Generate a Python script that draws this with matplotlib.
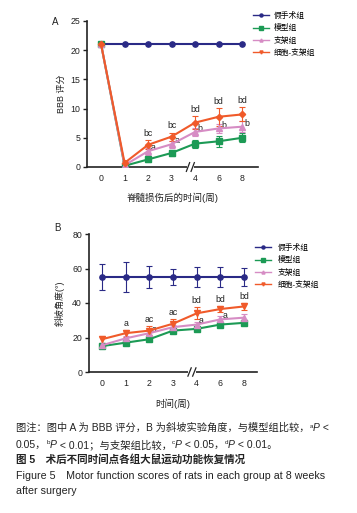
import numpy as np
import matplotlib
matplotlib.use('Agg')
import matplotlib.pyplot as plt
from matplotlib.lines import Line2D

plt.rcParams['font.family'] = ['Liberation Sans', 'Noto Sans CJK SC', 'DejaVu Sans']

weeks = ['0', '1', '2', '3', '4', '6', '8']
groups = ['假手术组', '模型组', '支架组', '细胞-支架组']
colors = ['#2A2A86', '#1C9A55', '#D68CC4', '#F05A2A']

# A: BBB score
bbb_sham = [21, 21, 21, 21, 21, 21, 21]
bbb_model = [21, 0.2, 1.3, 2.4, 4.0, 4.4, 5.0]
bbb_model_err = [0, 0.2, 0.4, 0.5, 0.7, 0.9, 0.8]
bbb_scaf = [21, 0.3, 2.7, 3.9, 6.0, 6.6, 6.9]
bbb_scaf_err = [0, 0.2, 0.6, 0.6, 0.7, 0.8, 0.9]
bbb_cell = [21, 0.7, 3.8, 5.2, 7.6, 8.6, 9.0]
bbb_cell_err = [0, 0.3, 0.8, 0.7, 1.1, 1.5, 1.2]
bbb_cell_sig = ['', '', 'bc', 'bc', 'bd', 'bd', 'bd']
bbb_scaf_sig = ['', '', 'a', 'a', 'b', 'b', 'b']

# B: incline angle
ang_sham = [55, 55, 55, 55, 55, 55, 55]
ang_sham_err = [7.5, 8.5, 6.5, 4.5, 5.8, 5.8, 5.3]
ang_model = [15, 17, 19, 24, 25, 27.5, 28.5]
ang_model_err = [1.0, 1.0, 1.0, 1.2, 1.2, 1.5, 1.5]
ang_scaf = [15.5, 19.5, 22.5, 26, 27.5, 30.5, 31.5]
ang_scaf_err = [1.2, 1.5, 1.5, 1.5, 1.5, 2.0, 2.0]
ang_cell = [19, 22.5, 24, 28, 34, 36.5, 38]
ang_cell_err = [2.0, 2.0, 2.5, 2.5, 3.5, 2.0, 2.0]
ang_cell_sig = ['', 'a', 'ac', 'ac', 'bd', 'bd', 'bd']
ang_scaf_sig = ['', '', 'a', '', 'a', 'a', '']

x = np.arange(len(weeks))

fig = plt.figure(figsize=(3.57, 5.13), dpi=100)
W, H = 357, 513
TXT = '#222222'


def px(l, t, r, b):
    return [l / W, 1 - b / H, (r - l) / W, (b - t) / H]


def style_ax(ax, ylim, yticks, xl):
    ax.set_ylim(*ylim)
    ax.set_yticks(yticks)
    ax.set_xlim(*xl)
    ax.set_xticks(x)
    ax.set_xticklabels(weeks)
    for s in ['top', 'right']:
        ax.spines[s].set_visible(False)
    for s in ['left', 'bottom']:
        ax.spines[s].set_linewidth(1.2)
        ax.spines[s].set_color(TXT)
    ax.tick_params(labelsize=6.3, width=1.0, length=3, pad=2, colors=TXT)
    ax.tick_params(axis='x', length=0, pad=5)
    # axis break
    bx = 3.8
    ax.plot([bx - 0.16, bx + 0.16], [0, 0], color='white', lw=3, transform=ax.get_xaxis_transform(),
            clip_on=False, zorder=5, solid_capstyle='butt')
    for dx in (-0.1, 0.1):
        ax.plot([bx + dx - 0.07, bx + dx + 0.07], [-0.03, 0.03], color=TXT, lw=0.9,
                transform=ax.get_xaxis_transform(), clip_on=False, zorder=6)


def series(ax, y, err, c, m, ms):
    if err is None:
        ax.plot(x, y, color=c, marker=m, ms=ms, lw=1.5, zorder=3)
    else:
        ax.errorbar(x, y, yerr=err, color=c, marker=m, ms=ms, lw=1.5, elinewidth=0.8,
                    capsize=2.5, capthick=0.8, zorder=3)


# ---- panel A
axA = fig.add_axes(px(87, 21, 258, 167))
series(axA, bbb_sham, None, colors[0], 'o', 3.8)
series(axA, bbb_model, bbb_model_err, colors[1], 's', 3.8)
series(axA, bbb_scaf, bbb_scaf_err, colors[2], '^', 3.8)
series(axA, bbb_cell, bbb_cell_err, colors[3], 'D', 3.2)
style_ax(axA, (0, 25), [0, 5, 10, 15, 20, 25], (-0.6, 6.68))
for i in x:
    if bbb_cell_sig[i]:
        axA.text(i, bbb_cell[i] + bbb_cell_err[i] + 0.4, bbb_cell_sig[i], ha='center', va='bottom',
                 fontsize=6.3, color=TXT)
    if bbb_scaf_sig[i]:
        axA.text(i + 0.12, bbb_scaf[i] - 0.2, bbb_scaf_sig[i], ha='left', va='bottom', fontsize=6.3, color=TXT)
axA.set_ylabel('BBB 评分', fontsize=6.5, labelpad=3, color=TXT)
axA.set_xlabel('脊髓损伤后的时间(周)', fontsize=6.8, labelpad=7, color=TXT)
fig.text(52 / W, 1 - 22 / H, 'A', fontsize=7, va='center', color=TXT)

# ---- panel B
axB = fig.add_axes(px(89, 234, 257, 372))
series(axB, ang_sham, ang_sham_err, colors[0], 'o', 3.8)
series(axB, ang_model, ang_model_err, colors[1], 's', 3.8)
series(axB, ang_scaf, ang_scaf_err, colors[2], '^', 3.8)
series(axB, ang_cell, ang_cell_err, colors[3], 'v', 3.8)
style_ax(axB, (0, 80), [0, 20, 40, 60, 80], (-0.55, 6.55))
for i in x:
    if ang_cell_sig[i]:
        axB.text(i, ang_cell[i] + ang_cell_err[i] + 1.2, ang_cell_sig[i], ha='center', va='bottom',
                 fontsize=6.3, color=TXT)
    if ang_scaf_sig[i]:
        axB.text(i + 0.1, ang_scaf[i] - 0.5, ang_scaf_sig[i], ha='left', va='bottom', fontsize=6.3, color=TXT)
axB.set_ylabel('斜坡角度(°)', fontsize=6.5, labelpad=5, color=TXT)
axB.set_xlabel('时间(周)', fontsize=6.8, labelpad=8, color=TXT)
fig.text(54 / W, 1 - 228 / H, 'B', fontsize=7, va='center', color=TXT)

# legends
handles = [Line2D([], [], color=c, marker=m, ms=2.2, lw=1.0) for c, m in
           zip(colors, ['o', 's', '^', 'v'])]
fig.legend(handles, groups, loc='upper left', bbox_to_anchor=(250 / W, 1 - 9 / H), frameon=False,
           fontsize=5.6, handlelength=2.0, handletextpad=0.6, labelspacing=0.55, borderaxespad=0)
fig.legend(handles, groups, loc='upper left', bbox_to_anchor=(252 / W, 1 - 241 / H), frameon=False,
           fontsize=5.6, handlelength=2.0, handletextpad=0.9, labelspacing=0.55, borderaxespad=0)

# caption
fig.canvas.draw()
rend = fig.canvas.get_renderer()


def run(xp, yp, pieces, size=7.3):
    cx = xp / W
    for s, kind in pieces:
        kw = dict(fontsize=size, va='baseline', color=TXT)
        yy = 1 - yp / H
        if kind == 'sup':
            kw['fontsize'] = size * 0.6
            yy += 3.5 / H
        elif kind == 'it':
            kw['style'] = 'italic'
        elif kind == 'b':
            kw['weight'] = 'bold'
        t = fig.text(cx, yy, s, **kw)
        cx = t.get_window_extent(rend).x1 / W


run(16, 431, [('图注：图中 A 为 BBB 评分，B 为斜坡实验角度，与模型组比较，', ''), ('a', 'sup'), ('P', 'it'), (' <', '')],
    size=7.35)
run(16, 448, [('0.05，', ''), ('b', 'sup'), ('P', 'it'), (' < 0.01；与支架组比较，', ''), ('c', 'sup'), ('P', 'it'),
              (' < 0.05，', ''), ('d', 'sup'), ('P', 'it'), (' < 0.01。', '')], size=7.45)
run(16, 463, [('图 5　术后不同时间点各组大鼠运动功能恢复情况', 'b')], size=7.6)
run(16, 479, [('Figure 5　Motor function scores of rats in each group at 8 weeks', '')], size=7.65)
run(16, 494, [('after surgery', '')], size=7.65)

fig.savefig('out.png', dpi=100)
